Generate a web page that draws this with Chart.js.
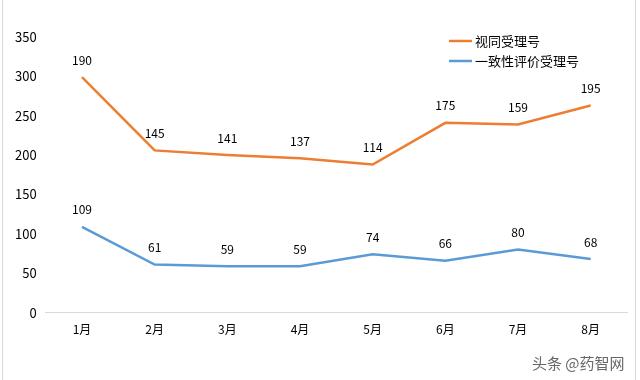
<!DOCTYPE html>
<html><head><meta charset="utf-8">
<script src="https://cdn.jsdelivr.net/npm/chart.js@4/dist/chart.umd.min.js"></script>
<style>
html,body{margin:0;padding:0;background:#fff;}
#wrap{position:relative;width:640px;height:380px;}
#wrap:before{content:"";position:absolute;left:2px;top:0;bottom:0;border-left:1px solid #d9d9d9;}
#wrap:after{content:"";position:absolute;right:4px;top:0;bottom:0;border-left:1px solid #d9d9d9;}
#wm{position:absolute;left:532px;top:352px;font:15px "Noto Sans CJK SC";color:#666;letter-spacing:0px;}
</style></head>
<body><div id="wrap"><canvas id="c" width="640" height="380"></canvas><div id="wm">头条 @药智网</div></div>
<script>
const categories=['1月','2月','3月','4月','5月','6月','7月','8月'];
const seriesNames=['视同受理号','一致性评价受理号'];
const tongValues=[190,145,141,137,114,175,159,195];
const yizhiValues=[109,61,59,59,74,66,80,68];
const yTicks=[0,50,100,150,200,250,300,350];
const orange='#ED7D31', blue='#5B9BD5';
const labelPlugin={id:'lbl',afterDatasetsDraw(chart){
  const ctx=chart.ctx;ctx.save();
  ctx.font='12px "Noto Sans CJK SC"';ctx.fillStyle='#000';ctx.textAlign='center';ctx.textBaseline='middle';
  chart.data.datasets.forEach((ds,i)=>{
    const meta=chart.getDatasetMeta(i);
    meta.data.forEach((pt,j)=>{ctx.fillText(String(ds.data[j]),pt.x,pt.y-17);});
  });
  const items=[[seriesNames[0],orange,41],[seriesNames[1],blue,61]];
  ctx.textAlign='left';ctx.font='13px "Noto Sans CJK SC"';
  items.forEach(([t,c,y])=>{ctx.strokeStyle=c;ctx.lineWidth=2.5;ctx.beginPath();ctx.moveTo(449,y);ctx.lineTo(472,y);ctx.stroke();ctx.fillStyle='#000';ctx.fillText(t,475,y);});
  ctx.restore();
}};
new Chart(document.getElementById('c'),{
  type:'line',
  data:{labels:categories,datasets:[
    {label:seriesNames[1],data:yizhiValues,borderColor:blue,backgroundColor:blue,borderWidth:2.5,pointRadius:0,tension:0,fill:false},
    {label:seriesNames[0],data:tongValues,borderColor:orange,backgroundColor:orange,borderWidth:2.5,pointRadius:0,tension:0,fill:false}
  ]},
  options:{responsive:false,animation:false,
    layout:{padding:{left:6,right:13,top:37,bottom:33}},
    plugins:{legend:{display:false},tooltip:{enabled:false}},
    scales:{
      x:{offset:true,grid:{display:false,drawTicks:false},border:{display:true,color:'#d9d9d9',width:1},
        ticks:{color:'#000',font:{family:'Noto Sans CJK SC',size:12},padding:10}},
      y:{stacked:true,min:0,max:350,afterBuildTicks(a){a.ticks=yTicks.map(v=>({value:v}));},
        grid:{display:false,drawTicks:false},border:{display:false},
        ticks:{color:'#000',font:{family:'Noto Sans CJK SC',size:13},padding:9}}
    }
  },
  plugins:[labelPlugin]
});
</script></body></html>
